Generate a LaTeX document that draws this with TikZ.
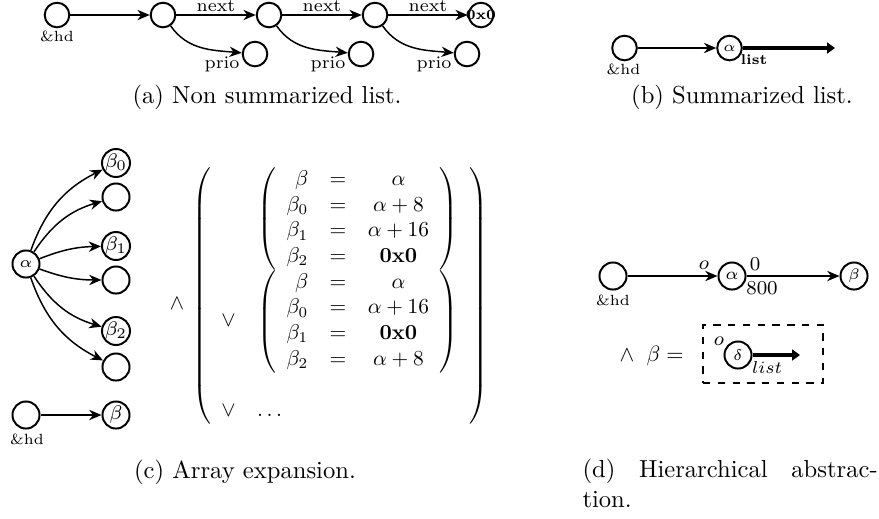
\RequirePackage{fix-cm}
\documentclass[tikz,border=0pt]{standalone}
\usepackage{graphicx}
\usetikzlibrary{arrows.meta}
\newcommand{\myfs}[1]{\fontsize{#1}{#1}\selectfont}
\begin{document}
\begin{tikzpicture}[x=0.4065pt,y=-0.4065pt,
  st/.style={circle,draw,line width=0.8pt,minimum size=10pt,inner sep=0pt},
  stc/.style={st,minimum size=11pt},
  edg/.style={line width=0.6pt,-{Stealth[length=5pt,width=4.2pt,inset=1.6pt]}},
  fat/.style={line width=1.7pt,-{Triangle[length=3.2pt,width=4.4pt]}},
  lbl/.style={inner sep=0pt,font=\myfs{7.2}},
  hd/.style={inner sep=0pt,font=\myfs{6}},
  captxt/.style={inner sep=0pt,font=\fontsize{10}{12}\selectfont},
]
\useasboundingbox (0,0) rectangle (879,518);

% ---------- (a) ----------
\node[st] (a0) at (57,15) {};
\node[st] (a1) at (163,15) {};
\node[st] (a2) at (269,15) {};
\node[st] (a3) at (375,15) {};
\node[st] (a4) at (481,15) {};
\node[inner sep=0pt,font=\myfs{5.8}\bfseries] (a4t) at (a4) {0x0};
\node[st] (p1) at (255,54) {};
\node[st] (p2) at (361,54) {};
\node[st] (p3) at (467,54) {};
\draw[edg] (a0) -- (a1);
\draw[edg] (a1) -- node[lbl,above=1.2pt] (n1) {next} (a2);
\draw[edg] (a2) -- node[lbl,above=1.2pt] (n2) {next} (a3);
\draw[edg] (a3) -- node[lbl,above=1.2pt] (n3) {next} (a4);
\draw[edg] (a1) to[out=-55,in=175] (p1);
\draw[edg] (a2) to[out=-55,in=175] (p2);
\draw[edg] (a3) to[out=-55,in=175] (p3);
\node[lbl,anchor=base east] (pl1) at (240,68) {prio};
\node[lbl,anchor=base east] (pl2) at (346,68) {prio};
\node[lbl,anchor=base east] (pl3) at (452,68) {prio};
\node[hd] (hda) at (57,36) {\&hd};
\node[captxt] (capa) at (267,97) {(a) Non summarized list.};

% ---------- (b) ----------
\node[st] (b0) at (624.5,48) {};
\node[st,font=\myfs{5.8}] (b1) at (729.5,48) {$\alpha$};
\coordinate (bend) at (835,48);
\draw[edg] (b0) -- (b1);
\draw[fat] (b1) -- (bend);
\node[inner sep=0pt,font=\myfs{5.8}\bfseries] (bl) at (754,60) {list};
\node[hd] (hdb) at (623.5,69.5) {\&hd};
\node[captxt] (capb) at (742,97) {(b) Summarized list.};

% ---------- (c) ----------
\node[stc,font=\myfs{6.5}] (ca) at (26,264) {$\alpha$};
\node[stc,font=\myfs{8}] (c1) at (116,163) {$\beta_0$};
\node[stc] (c2) at (116,197) {};
\node[stc,font=\myfs{8}] (c3) at (116,246) {$\beta_1$};
\node[stc] (c4) at (116,280) {};
\node[stc,font=\myfs{8}] (c5) at (116,331) {$\beta_2$};
\node[stc] (c6) at (116,367) {};
\draw[edg] (ca) to[bend left=22] (c1);
\draw[edg] (ca) to[bend left=20] (c2);
\draw[edg] (ca) to[bend left=10] (c3);
\draw[edg] (ca) to[bend right=10] (c4);
\draw[edg] (ca) to[bend right=20] (c5);
\draw[edg] (ca) to[bend right=22] (c6);
\node[stc] (ch) at (26,415) {};
\node[stc,font=\myfs{8}] (cb) at (116,415) {$\beta$};
\draw[edg] (ch) -- (cb);
\node[hd] (hdc) at (27,439) {\&hd};
\node[inner sep=0pt] (wedc) at (177,304) {\scalebox{0.87}{$\wedge$}};
\node[inner sep=0pt] (mx) at (340,296) {\scalebox{0.87}{$\displaystyle
\left(\begin{array}{cl}
 & \left(\begin{array}{rcc}
   \beta & = & \alpha\\
   \beta_0 & = & \alpha+8\\
   \beta_1 & = & \alpha+16\\
   \beta_2 & = & \mathbf{0x0}
 \end{array}\right)\\
 \vee & \left(\begin{array}{rcc}
   \beta & = & \alpha\\
   \beta_0 & = & \alpha+16\\
   \beta_1 & = & \mathbf{0x0}\\
   \beta_2 & = & \alpha+8
 \end{array}\right)\\[30pt]
 \vee & \dots
\end{array}\right)$}};
\node[captxt] (capc) at (245,472) {(c) Array expansion.};

% ---------- (d) ----------
\node[stc] (d0) at (613,276) {};
\node[stc,font=\myfs{6.8}] (da) at (732,276) {$\alpha$};
\node[stc,font=\myfs{6.2}] (db) at (854,276) {$\beta$};
\draw[edg] (d0) -- (da);
\draw[edg] (da) -- (db);
\node[hd] (hdd) at (613,300) {\&hd};
\node[inner sep=0pt,font=\myfs{8}] (od) at (704,265) {$o$};
\node[inner sep=0pt,font=\myfs{8}] (zd) at (755,264) {0};
\node[inner sep=0pt,font=\myfs{8}] (ed) at (762,288) {800};
\node[inner sep=0pt,anchor=base] (wedd) at (627,361) {\scalebox{0.9}{$\wedge$}};
\node[inner sep=0pt,anchor=base west] (beq) at (646,361) {\scalebox{0.9}{$\beta =$}};
\node[draw,dashed,line width=0.5pt,minimum width=48.8pt,minimum height=23.6pt,inner sep=0pt] (box) at (763,354) {};
\node[stc,font=\myfs{6.2}] (dd) at (738,355) {$\delta$};
\coordinate (dend) at (800,355);
\draw[fat] (dd) -- (dend);
\node[inner sep=0pt,font=\myfs{8}] (o2) at (719,341) {$o$};
\node[inner sep=0pt,font=\myfs{7}] (ls) at (767,368) {$list$};
\node[captxt,anchor=north west,text width=120pt,align=justify] (capd) at (582,459) {(d) Hierarchical abstrac\-tion.};
\end{tikzpicture}
\end{document}
